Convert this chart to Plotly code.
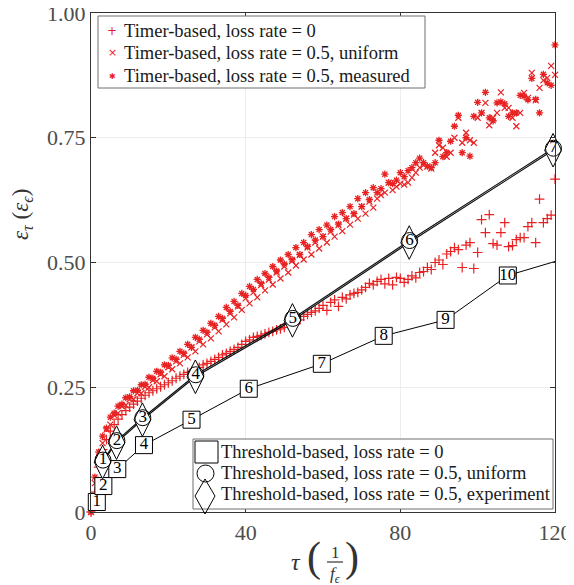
import plotly.graph_objects as go

# ---------------- data ----------------
tau = list(range(0, 121))

timer_loss0 = [
    0.000, 0.040, 0.090, 0.125, 0.145, 0.162, 0.175, 0.186, 0.195, 0.203,
    0.210, 0.216, 0.222, 0.228, 0.234, 0.239, 0.243, 0.247, 0.251, 0.255,
    0.259, 0.263, 0.268, 0.272, 0.276, 0.280, 0.282, 0.284, 0.290, 0.295,
    0.298, 0.302, 0.306, 0.310, 0.315, 0.318, 0.322, 0.326, 0.330, 0.336,
    0.342, 0.345, 0.350, 0.352, 0.354, 0.357, 0.360, 0.362, 0.365, 0.367,
    0.370, 0.376, 0.382, 0.378, 0.385, 0.392, 0.396, 0.400, 0.403, 0.408,
    0.414, 0.404, 0.420, 0.425, 0.412, 0.430, 0.427, 0.435, 0.438, 0.440,
    0.445, 0.450, 0.458, 0.455, 0.462, 0.466, 0.457, 0.468, 0.455, 0.470,
    0.468, 0.460, 0.466, 0.473, 0.469, 0.480, 0.482, 0.490, 0.486, 0.500,
    0.505, 0.496, 0.517, 0.522, 0.530, 0.526, 0.490, 0.535, 0.540, 0.488,
    0.520, 0.586, 0.560, 0.596, 0.538, 0.535, 0.560, 0.580, 0.532, 0.534,
    0.546, 0.550, 0.550, 0.572, 0.580, 0.540, 0.627, 0.580, 0.588, 0.595,
    0.667,
]

timer_uniform = [
    0.000, 0.058, 0.105, 0.138, 0.165, 0.175, 0.194, 0.198, 0.212, 0.214,
    0.226, 0.226, 0.238, 0.238, 0.251, 0.250, 0.264, 0.262, 0.276, 0.272,
    0.290, 0.286, 0.302, 0.298, 0.315, 0.310, 0.330, 0.322, 0.342, 0.336,
    0.356, 0.348, 0.370, 0.362, 0.385, 0.376, 0.398, 0.390, 0.412, 0.405,
    0.428, 0.418, 0.440, 0.430, 0.455, 0.444, 0.466, 0.456, 0.480, 0.468,
    0.492, 0.480, 0.503, 0.494, 0.515, 0.506, 0.530, 0.516, 0.540, 0.528,
    0.552, 0.540, 0.562, 0.552, 0.575, 0.563, 0.588, 0.576, 0.596, 0.588,
    0.612, 0.598, 0.622, 0.610, 0.628, 0.635, 0.640, 0.660, 0.645, 0.652,
    0.658, 0.656, 0.660, 0.670, 0.680, 0.690, 0.695, 0.692, 0.688, 0.720,
    0.735, 0.730, 0.712, 0.720, 0.750, 0.790, 0.740, 0.760, 0.745, 0.740,
    0.790, 0.800, 0.820, 0.775, 0.790, 0.800, 0.841, 0.810, 0.810, 0.790,
    0.773, 0.800, 0.840, 0.830, 0.880, 0.825, 0.850, 0.865, 0.870, 0.894,
    0.876,
]

timer_measured = [
    0.000, 0.070, 0.120, 0.152, 0.168, 0.190, 0.198, 0.212, 0.216, 0.229,
    0.231, 0.243, 0.244, 0.255, 0.256, 0.270, 0.268, 0.282, 0.280, 0.295,
    0.294, 0.309, 0.306, 0.322, 0.318, 0.336, 0.330, 0.350, 0.346, 0.364,
    0.360, 0.378, 0.374, 0.392, 0.388, 0.410, 0.402, 0.422, 0.414, 0.438,
    0.434, 0.452, 0.446, 0.466, 0.458, 0.478, 0.470, 0.492, 0.483, 0.505,
    0.497, 0.516, 0.506, 0.530, 0.516, 0.540, 0.532, 0.556, 0.545, 0.566,
    0.552, 0.575, 0.566, 0.592, 0.577, 0.600, 0.588, 0.612, 0.598, 0.628,
    0.612, 0.640, 0.626, 0.650, 0.640, 0.648, 0.677, 0.660, 0.658, 0.665,
    0.680, 0.672, 0.684, 0.690, 0.700, 0.709, 0.700, 0.693, 0.690, 0.700,
    0.745, 0.712, 0.720, 0.743, 0.773, 0.795, 0.720, 0.750, 0.713, 0.793,
    0.821, 0.800, 0.841, 0.790, 0.784, 0.820, 0.822, 0.818, 0.793, 0.800,
    0.800, 0.835, 0.833, 0.826, 0.869, 0.827, 0.800, 0.877, 0.860, 0.855,
    0.936,
]

thr0_tau = [1.5, 3.2, 6.8, 13.7, 26.0, 40.8, 59.7, 75.7, 91.7, 107.8, 120.0]
thr0_eps = [0.020, 0.052, 0.086, 0.134, 0.185, 0.247, 0.297, 0.353, 0.385, 0.474, 0.502]
thr0_labels = ["1", "2", "3", "4", "5", "6", "7", "8", "9", "10"]

thr_uni_tau = [3.1, 6.7, 13.4, 27.1, 52.2, 82.4, 119.6]
thr_uni_eps = [0.104, 0.143, 0.189, 0.275, 0.388, 0.544, 0.729]
thr_exp_tau = [3.0, 6.6, 13.3, 27.0, 52.1, 82.3, 119.5]
thr_exp_eps = [0.100, 0.139, 0.185, 0.271, 0.384, 0.540, 0.725]
thr_labels = ["1", "2", "3", "4", "5", "6", "7"]

x_ticks = [0, 40, 80, 120]
x_ticktext = ["0", "40", "80", "120"]
y_ticks = [0, 0.25, 0.5, 0.75, 1.0]
y_ticktext = ["0", "0.25", "0.50", "0.75", "1.00"]

timer_names = ["Timer-based, loss rate = 0",
               "Timer-based, loss rate = 0.5, uniform",
               "Timer-based, loss rate = 0.5, measured"]
thr_names = ["Threshold-based, loss rate = 0",
             "Threshold-based, loss rate = 0.5, uniform",
             "Threshold-based, loss rate = 0.5, experiment"]

# ---------------- style ----------------
OFF = 8                      # page offset of the figure
W, H = 574 - OFF, 585 - OFF
PL, PR, PT, PB = 91, 555, 13, 512   # plot area in screen pixels
L, R, T, B = PL - OFF, 574 - PR, PT - OFF, 585 - PB
PW, PH = PR - PL, PB - PT
SERIF = "Liberation Serif"
RED = "#e82222"
AX = "#333333"
TXT = "#333333"
LEGTXT = "#1a1a1a"
LEG_SIZE = 18.5
BORDER = "#6e6e6e"


def px(xp):
    return (xp - PL) / PW


def py(yp):
    return (PB - yp) / PH


fig = go.Figure()

# Timer-based scatter series
fig.add_trace(go.Scatter(
    x=tau, y=timer_loss0, mode="markers", name=timer_names[0],
    marker=dict(symbol="cross-thin", size=7, line=dict(color=RED, width=1.2), color=RED),
    cliponaxis=False))
fig.add_trace(go.Scatter(
    x=tau, y=timer_uniform, mode="markers", name=timer_names[1],
    marker=dict(symbol="x-thin", size=6, line=dict(color=RED, width=1.2), color=RED),
    cliponaxis=False))
fig.add_trace(go.Scatter(
    x=tau, y=timer_measured, mode="markers", name=timer_names[2],
    marker=dict(symbol="asterisk-open", size=6, line=dict(color=RED, width=1.3), color=RED),
    cliponaxis=False))

# Threshold-based lines
fig.add_trace(go.Scatter(
    x=thr0_tau, y=thr0_eps, mode="lines", line=dict(color="black", width=1),
    cliponaxis=False, hoverinfo="skip"))
fig.add_trace(go.Scatter(
    x=thr_exp_tau, y=thr_exp_eps, mode="lines", line=dict(color="#111111", width=1.2),
    cliponaxis=False, hoverinfo="skip"))
fig.add_trace(go.Scatter(
    x=thr_uni_tau, y=thr_uni_eps, mode="lines", line=dict(color="#111111", width=1.2),
    cliponaxis=False, hoverinfo="skip"))

# Threshold-based markers
fig.add_trace(go.Scatter(
    x=thr0_tau[:len(thr0_labels)], y=thr0_eps[:len(thr0_labels)], mode="markers",
    name=thr_names[0],
    marker=dict(symbol="square", size=17, color="white", line=dict(color="black", width=1)),
    cliponaxis=False))
fig.add_trace(go.Scatter(
    x=thr_exp_tau, y=thr_exp_eps, mode="markers", name=thr_names[2],
    marker=dict(symbol="diamond-tall", size=24, color="white", line=dict(color="black", width=1)),
    cliponaxis=False))
fig.add_trace(go.Scatter(
    x=thr_uni_tau, y=thr_uni_eps, mode="markers", name=thr_names[1],
    marker=dict(symbol="circle-open", size=16, color="black", line=dict(color="black", width=1)),
    cliponaxis=False))

# Number labels
fig.add_trace(go.Scatter(
    x=thr0_tau[:len(thr0_labels)], y=thr0_eps[:len(thr0_labels)], mode="text",
    text=thr0_labels, textposition="middle center",
    textfont=dict(family=SERIF, size=17, color="black"),
    cliponaxis=False, hoverinfo="skip"))
fig.add_trace(go.Scatter(
    x=thr_uni_tau, y=thr_uni_eps, mode="text",
    text=thr_labels, textposition="middle center",
    textfont=dict(family=SERIF, size=17, color="black"),
    cliponaxis=False, hoverinfo="skip"))

axis_common = dict(
    showline=True, linecolor=AX, linewidth=1.3, mirror="ticks",
    ticks="inside", ticklen=5, tickcolor=AX, tickwidth=1,
    showgrid=True, gridcolor="#ededed", gridwidth=1, zeroline=False,
    automargin=False, ticklabeloverflow="allow",
    tickfont=dict(family=SERIF, size=22, color="#4d4d4d"),
)

fig.update_layout(
    template="none",
    width=W, height=H, autosize=False,
    font=dict(family=SERIF, size=LEG_SIZE, color=LEGTXT),
    margin=dict(l=L, r=R, t=T, b=B, pad=0, autoexpand=False),
    paper_bgcolor="white", plot_bgcolor="white",
    xaxis=dict(range=[0, 120], tickvals=x_ticks, ticktext=x_ticktext, **axis_common),
    yaxis=dict(range=[0, 1], tickvals=y_ticks, ticktext=y_ticktext, **axis_common),
    showlegend=False,
)


def label(x, y, text, size, color=TXT, xanchor="center", family=SERIF, **kw):
    return dict(xref="paper", yref="paper", x=px(x), y=py(y), showarrow=False,
                xanchor=xanchor, yanchor="middle", text=text,
                font=dict(family=family, size=size, color=color), **kw)


def rect(x0, y0, x1, y1, **kw):
    return dict(type="rect", xref="paper", yref="paper", layer="above",
                x0=px(x0), x1=px(x1), y0=py(y0), y1=py(y1), **kw)


ann = [
    # y-axis title
    label(22, 214, "<i>ε</i><sub><i>τ</i></sub> (<i>ε</i><sub><i>ϵ</i></sub>)", 23, textangle=-90),
    # x-axis title: tau ( 1 / f_eps )
    label(296, 562, "<i>τ</i>", 24),
    label(314, 557, "(", 42),
    label(352, 557, ")", 42),
    label(335, 552, "1", 17),
    label(335, 575, "<i>f</i><sub><i>ϵ</i></sub>", 17),
]

shapes = [
    dict(type="line", xref="paper", yref="paper",
         x0=px(327), x1=px(343), y0=py(562), y1=py(562),
         line=dict(color=TXT, width=1.2)),
]

# ---- legend 1 (timer-based) ----
shapes.append(rect(98, 16, 425, 88, fillcolor="white", line=dict(color=BORDER, width=1)))
leg1_rows = [31, 53, 76]
leg1_syms = ["+", "×", "✱"]
leg1_sym_sizes = [12, 11, 8]
for yrow, sym, ssz, name in zip(leg1_rows, leg1_syms, leg1_sym_sizes, timer_names):
    ann.append(label(112, yrow, sym, ssz, color=RED, family="DejaVu Sans"))
    ann.append(label(122, yrow, name, LEG_SIZE, color=LEGTXT, xanchor="left"))

# ---- legend 2 (threshold-based) ----
shapes.append(rect(193, 439, 553, 509, fillcolor="white", line=dict(color=BORDER, width=1)))
shapes.append(rect(195, 441, 218, 463, fillcolor="white", line=dict(color="black", width=1)))
shapes.append(dict(type="circle", xref="paper", yref="paper", layer="above",
                   x0=px(197), x1=px(214), y0=py(465), y1=py(482),
                   fillcolor="white", line=dict(color="black", width=1)))
dpath = "M {:.5f},{:.5f} L {:.5f},{:.5f} L {:.5f},{:.5f} L {:.5f},{:.5f} Z".format(
    px(205), py(479), px(215), py(496), px(205), py(514), px(195), py(496))
shapes.append(dict(type="path", xref="paper", yref="paper", layer="above", path=dpath,
                   fillcolor="rgba(0,0,0,0)", line=dict(color="black", width=1)))
leg2_rows = [452, 473, 494]
for yrow, name in zip(leg2_rows, thr_names):
    ann.append(label(219, yrow, name, LEG_SIZE, color=LEGTXT, xanchor="left"))

fig.update_layout(annotations=ann, shapes=shapes)

fig.write_html("out.html")
